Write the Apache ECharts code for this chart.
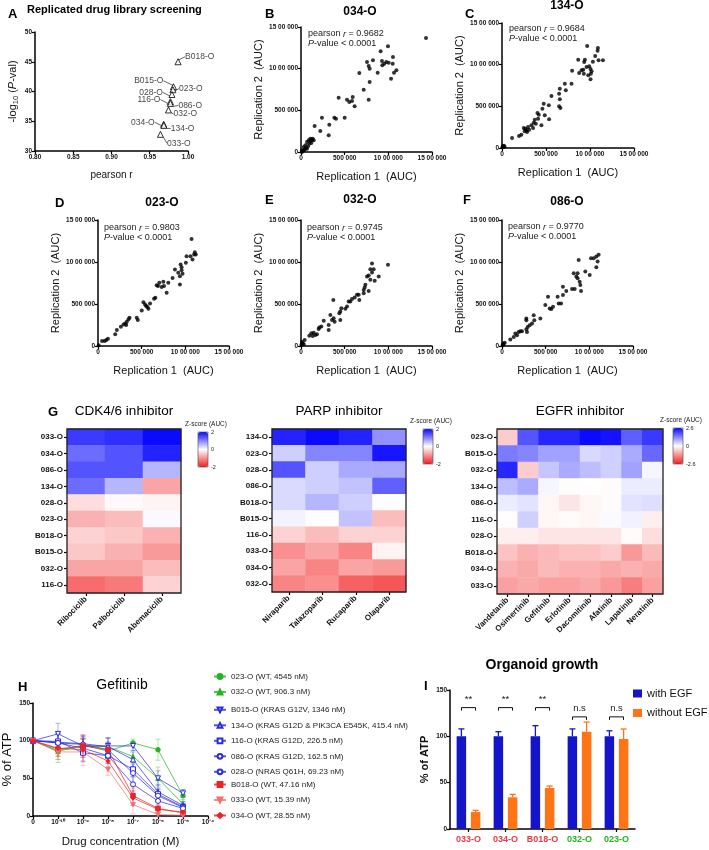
<!DOCTYPE html>
<html>
<head>
<meta charset="utf-8">
<title>Replicated drug library screening</title>
<script src="https://cdn.jsdelivr.net/npm/echarts@6/dist/echarts.min.js"></script>
<style>
html, body { margin: 0; padding: 0; background: #fff; }
#main { width: 709px; height: 850px; }
</style>
</head>
<body>
<div id="main"></div>
<script>
// ---------- data ----------
// A: replicate correlation of each organoid screen
const aNames = ['B018-O', 'B015-O', '023-O', '028-O', '116-O', '086-O', '032-O', '034-O', '134-O', '033-O'];
const aPearson = [0.987, 0.981, 0.9803, 0.979, 0.977, 0.9770, 0.9745, 0.9682, 0.9684, 0.964];
const aLogP = [45.0, 40.8, 40.3, 39.5, 38.3, 38.0, 36.9, 34.5, 34.3, 32.8];

// B-F: AUC of replicate 1 vs replicate 2 (in thousands)
const aucTicks = ['0', '500 000', '10 00 000', '15 00 000'];
const scatterNames = ['034-O', '134-O', '023-O', '032-O', '086-O'];
const scatterR = ['0.9682', '0.9684', '0.9803', '0.9745', '0.9770'];
const rep034 = [[1431,1368],[996,1268],[912,1208],[1053,1140],[1050,1060],[824,1100],[756,1080],[775,1032],[786,1000],[927,1092],[954,1060],[977,1080],[931,1040],[1004,1072],[1092,980],[1065,952],[1031,880],[878,952],[668,948],[786,840],[718,748],[775,628],[592,660],[527,628],[553,600],[584,612],[614,548],[431,652],[500,412],[401,400],[382,412],[240,412],[324,328],[317,200],[221,252],[156,312],[107,160],[126,148],[88,140],[69,120],[95,100],[50,80],[31,60],[57,48],[11,20],[23,12],[42,32],[80,68],[118,108],[145,140],[69,40],[11,0],[34,20],[111,132],[134,160]];
const rep134 = [[11,24],[23,28],[30,12],[4,8],[114,120],[194,144],[220,160],[247,240],[266,232],[277,212],[296,252],[285,192],[308,220],[258,200],[334,272],[361,304],[372,340],[353,240],[384,292],[410,352],[418,400],[403,420],[448,272],[486,392],[474,532],[459,472],[532,512],[535,344],[562,624],[649,500],[657,584],[649,652],[657,712],[664,480],[725,692],[714,772],[790,772],[797,928],[866,1060],[877,900],[904,932],[923,940],[930,892],[934,1032],[942,1060],[961,972],[968,1224],[991,980],[1006,948],[1018,920],[1010,892],[1006,824],[1033,1036],[1059,1104],[1086,1168],[1090,1200],[1097,1052],[1147,1052],[980,872]];
const rep023 = [[8,8],[46,59],[76,59],[95,71],[114,87],[197,139],[216,190],[262,230],[292,257],[311,269],[330,289],[349,317],[361,336],[323,249],[444,336],[456,309],[501,424],[520,522],[539,495],[551,475],[577,443],[566,463],[596,507],[642,562],[657,574],[672,724],[702,752],[729,701],[748,764],[756,713],[687,713],[786,633],[805,752],[854,811],[881,910],[919,871],[938,831],[946,970],[957,938],[957,902],[938,732],[968,859],[1006,990],[1014,1069],[1059,1069],[1071,1275],[1082,1029],[1109,1116],[1101,1089],[1120,1089]];
const rep032 = [[4,12],[19,32],[11,52],[31,20],[42,72],[95,123],[118,151],[145,159],[164,131],[183,139],[134,119],[202,203],[210,219],[233,231],[260,302],[317,191],[317,251],[336,370],[355,310],[374,330],[385,290],[370,549],[450,310],[439,390],[462,450],[450,410],[508,442],[527,470],[546,529],[565,529],[584,561],[614,577],[641,609],[668,549],[660,609],[718,629],[718,668],[729,696],[737,728],[775,656],[756,827],[775,839],[794,788],[794,915],[813,983],[832,915],[844,776],[813,875],[890,827],[996,967]];
const rep086 = [[8,8],[19,28],[31,40],[11,20],[95,76],[134,108],[153,148],[172,128],[191,168],[210,176],[229,176],[286,168],[279,199],[294,227],[317,247],[344,267],[279,307],[279,327],[363,367],[370,307],[439,327],[496,487],[527,586],[546,447],[565,439],[584,467],[649,507],[676,507],[637,586],[698,606],[698,706],[736,654],[802,678],[832,678],[821,866],[866,866],[851,826],[866,806],[878,1025],[889,766],[897,726],[905,654],[954,886],[1004,846],[1019,1045],[1050,1045],[1080,1065],[1095,1005],[1080,937],[1107,1085]];
const scatterPts = [rep034, rep134, rep023, rep032, rep086];

// G: z-scores of AUC
const cdkDrugs = ['Ribociclib', 'Palbociclib', 'Abemaciclib'];
const cdkRows = ['033-O', '034-O', '086-O', '134-O', '028-O', '023-O', 'B018-O', 'B015-O', '032-O', '116-O'];
const cdkZ = [
  [1.6, 1.7, 2.0], [1.2, 1.4, 1.8], [1.4, 1.4, 0.6], [1.2, 0.6, -0.8], [-0.3, -0.05, -0.1],
  [-0.7, -0.6, 0.05], [-0.4, -0.5, -0.7], [-0.5, -0.7, -0.9], [-0.8, -0.8, -0.6], [-1.3, -1.2, -0.4]
];
const parpDrugs = ['Niraparib', 'Talazoparib', 'Rucaparib', 'Olaparib'];
const parpRows = ['134-O', '023-O', '028-O', '086-O', 'B018-O', 'B015-O', '116-O', '033-O', '034-O', '032-O'];
const parpZ = [
  [1.8, 2.0, 1.8, 0.9], [0.4, 1.0, 1.0, 1.9], [1.4, 0.4, 0.7, 0.7], [0.3, 0.4, 0.5, 1.3], [0.3, 0.6, 0.4, 0.02],
  [0.1, 0.02, 0.5, -0.6], [-0.4, -0.6, -0.4, -0.4], [-1.0, -0.8, -1.1, -0.1], [-0.8, -1.1, -0.8, -0.9], [-1.1, -1.0, -1.4, -1.5]
];
const egfrDrugs = ['Vandetanib', 'Osimertinib', 'Gefitinib', 'Erlotinib', 'Dacomitinib', 'Afatinib', 'Lapatinib', 'Neratinib'];
const egfrRows = ['023-O', 'B015-O', '032-O', '134-O', '086-O', '116-O', '028-O', 'B018-O', '034-O', '033-O'];
const egfrZ = [
  [-0.6, 1.8, 2.3, 2.3, 2.6, 2.5, 1.7, 2.1],
  [1.4, 1.3, 1.0, 1.0, 0.4, 0.5, 0.9, 1.6],
  [2.3, -0.6, 0.6, 0.9, 0.7, 0.5, 1.0, 0.1],
  [0.7, 0.9, 0.1, -0.03, 0.0, -0.05, 0.2, 0.2],
  [0.2, 0.3, -0.1, -0.3, -0.1, -0.05, 0.3, 0.35],
  [-0.02, 0.5, -0.1, -0.05, -0.1, 0.05, 0.15, -0.2],
  [-0.2, -0.2, -0.3, -0.3, -0.3, -0.3, -0.05, -0.4],
  [-0.7, -0.9, -0.8, -0.7, -0.7, -0.6, -1.2, -0.8],
  [-0.9, -1.0, -0.8, -0.9, -0.9, -1.0, -0.9, -1.0],
  [-1.1, -1.0, -1.1, -1.1, -1.0, -1.2, -1.5, -1.1]
];
const zTicks2 = ['2', '0', '-2'];
const zTicks26 = ['2.6', '0', '-2.6'];

// H: gefitinib dose response (% of ATP), mean and SD
const hConc = ['0', '10⁻¹⁰', '10⁻⁹', '10⁻⁸', '10⁻⁷', '10⁻⁶', '10⁻⁵', '10⁻⁴'];
const hNames = ['023-O (WT, 4545 nM)', '032-O (WT, 906.3 nM)', 'B015-O (KRAS G12V, 1346 nM)',
  '134-O (KRAS G12D & PIK3CA E545K, 415.4 nM)', '116-O (KRAS G12D, 226.5 nM)', '086-O (KRAS G12D, 162.5 nM)',
  '028-O (NRAS Q61H, 69.23 nM)', 'B018-O (WT, 47.16 nM)', '033-O (WT, 15.39 nM)', '034-O (WT, 28.55 nM)'];
const hMean = [
  [100, 87, 94, 86, 97, 88, 27],
  [100, 86, 93, 92, 79, 50, 16],
  [100, 109, 93, 93, 93, 50, 30],
  [100, 98, 96, 92, 75, 32, 14],
  [100, 99, 84, 80, 62, 29, 12],
  [100, 97, 95, 88, 57, 27, 11],
  [100, 97, 90, 80, 42, 20, 10],
  [100, 89, 93, 88, 27, 10, 4],
  [100, 85, 85, 62, 15, 2, 1],
  [100, 90, 88, 73, 24, 9, 5]
];
const hSd = [
  [0, 12, 8, 10, 5, 14, 8],
  [0, 15, 10, 12, 8, 15, 6],
  [0, 14, 12, 10, 6, 10, 5],
  [0, 12, 10, 12, 10, 10, 5],
  [0, 10, 12, 10, 10, 8, 5],
  [0, 12, 12, 10, 12, 8, 5],
  [0, 12, 12, 10, 10, 8, 4],
  [0, 10, 15, 10, 10, 5, 3],
  [0, 10, 18, 8, 12, 3, 2],
  [0, 10, 15, 10, 10, 4, 3]
];

// I: organoid growth with / without EGF
const iOrganoids = ['033-O', '034-O', 'B018-O', '032-O', '023-O'];
const withEgf = [100, 100, 100, 100, 100];
const withEgfSd = [8, 5, 11.5, 8, 6];
const withoutEgf = [18.3, 34.2, 44.2, 105, 97.1];
const withoutEgfSd = [1.8, 3.2, 2.2, 10.4, 10.8];
const sigLabels = ['**', '**', '**', 'n.s', 'n.s'];
const sigLevel = [131, 131, 131, 121, 121];

// ---------- helpers ----------
const FONT = '"Liberation Sans", Arial, Helvetica, sans-serif';
const grid = [], xAxis = [], yAxis = [], series = [], visualMap = [], graphic = [], legend = [];

function text(x, y, str, style) {
  graphic.push({
    type: 'text', x: x, y: y, z: 10, silent: true,
    style: Object.assign({ text: str, fill: '#000', fontFamily: FONT, fontSize: 10, align: 'left', verticalAlign: 'middle' }, style)
  });
}

function valAxis(gi, min, max, interval, fmt, extra) {
  return Object.assign({
    gridIndex: gi, type: 'value', min: min, max: max, interval: interval,
    splitLine: { show: false },
    axisLine: { show: true, onZero: false, lineStyle: { color: '#000', width: 1.5 } },
    axisTick: { show: true, length: 3, lineStyle: { color: '#000', width: 1.2 } },
    axisLabel: { fontFamily: FONT, fontSize: 6.5, fontWeight: 'bold', color: '#111', margin: 3, formatter: fmt }
  }, extra || {});
}

function axisName(size, weight) {
  return { fontFamily: FONT, fontSize: size, fontWeight: weight || 'normal', color: '#111' };
}

// ---------- A ----------
const aOffsets = [[7, -5, 'left'], [-10, -6, 'right'], [6, -1, 'left'], [-9, -2, 'right'], [-10, -2, 'right'],
  [8, 2, 'left'], [5, 4, 'left'], [-9, -2, 'right'], [7, 3, 'left'], [6.5, 9, 'left']];
text(8, 14, 'A', { fontSize: 13, fontWeight: 'bold' });
text(27, 10, 'Replicated drug library screening', { fontSize: 11, fontWeight: 'bold' });
let gi = grid.length;
grid.push({ left: 35, top: 32, width: 153, height: 119 });
xAxis.push(valAxis(gi, 0.8, 1.0, 0.05, v => v.toFixed(2), {
  name: 'pearson r', nameLocation: 'middle', nameGap: 19, nameTextStyle: axisName(10)
}));
yAxis.push(valAxis(gi, 30, 50, 5, v => v, {
  name: '-log{s|10} ({i|P}-val)', nameLocation: 'middle', nameGap: 15,
  nameTextStyle: Object.assign(axisName(11), {
    rich: { s: { fontFamily: FONT, fontSize: 7.5, color: '#111', padding: [6, 0, 0, 0] }, i: { fontFamily: FONT, fontSize: 11, fontStyle: 'italic', color: '#111' } }
  })
}));
series.push({
  type: 'scatter', xAxisIndex: gi, yAxisIndex: gi,
  data: aNames.map((n, k) => ({ name: n, value: [aPearson[k], aLogP[k]] })),
  symbol: 'triangle', symbolSize: 6,
  itemStyle: { color: '#fff', borderColor: '#000', borderWidth: 1 },
  label: { show: true, formatter: '{b}', fontFamily: FONT, fontSize: 8.5, color: '#111' },
  labelLayout: function (p) {
    const o = aOffsets[p.dataIndex];
    return { x: p.rect.x + p.rect.width / 2 + o[0], y: p.rect.y + p.rect.height / 2 + o[1], align: o[2], verticalAlign: 'middle' };
  },
  labelLine: { show: true, lineStyle: { color: '#222', width: 0.7 } }
});

// ---------- B-F ----------
const scatterBox = [
  { g: [301, 27, 131, 125], t: [360, 12], l: ['B', 265, 14], n: [308, 34] },
  { g: [502, 23, 132, 125], t: [567, 6], l: ['C', 465, 14], n: [509, 29] },
  { g: [98, 220, 131, 126], t: [162, 203], l: ['D', 55, 203], n: [104, 228] },
  { g: [301, 220, 131, 126], t: [360, 200], l: ['E', 265, 200], n: [307, 228] },
  { g: [502, 220, 131, 126], t: [567, 202], l: ['F', 463, 200], n: [508, 227] }
];
scatterNames.forEach(function (nm, i) {
  const b = scatterBox[i];
  const g = grid.length;
  grid.push({ left: b.g[0], top: b.g[1], width: b.g[2], height: b.g[3] });
  xAxis.push(valAxis(g, 0, 1500, 500, v => aucTicks[Math.round(v / 500)], {
    name: 'Replication 1  (AUC)', nameLocation: 'middle', nameGap: 19, nameTextStyle: axisName(11)
  }));
  yAxis.push(valAxis(g, 0, 1500, 500, v => aucTicks[Math.round(v / 500)], {
    name: 'Replication 2  (AUC)', nameLocation: 'middle', nameGap: 37, nameTextStyle: axisName(11)
  }));
  series.push({
    type: 'scatter', xAxisIndex: g, yAxisIndex: g, data: scatterPts[i],
    symbolSize: 4, itemStyle: { color: '#000' }
  });
  text(b.l[1], b.l[2], b.l[0], { fontSize: 13, fontWeight: 'bold' });
  text(b.t[0], b.t[1], nm, { fontSize: 12, fontWeight: 'bold', align: 'center' });
  const rich = {
    n: { fontFamily: FONT, fontSize: 9, fill: '#222' },
    i: { fontFamily: FONT, fontSize: 9, fontStyle: 'italic', fill: '#222' }
  };
  text(b.n[0], b.n[1], '{n|pearson }{i|r}{n| = ' + scatterR[i] + '}', { rich: rich });
  text(b.n[0], b.n[1] + 9.5, '{i|P}{n|-value < 0.0001}', { rich: rich });
});

// ---------- G ----------
text(48, 412, 'G', { fontSize: 13, fontWeight: 'bold' });
const hmBox = [
  { g: [67, 429, 114, 164], t: [124, 411], vm: [198, 432, 10, 35], title: 'CDK4/6 inhibitor', lim: 2, ticks: zTicks2 },
  { g: [272, 429, 134, 163], t: [339, 411], vm: [423, 429, 10, 35], title: 'PARP inhibitor', lim: 2, ticks: zTicks2 },
  { g: [497, 429, 166, 165], t: [580, 411], vm: [673, 428, 10, 36], title: 'EGFR inhibitor', lim: 2.6, ticks: zTicks26 }
];
const hmSets = [[cdkDrugs, cdkRows, cdkZ], [parpDrugs, parpRows, parpZ], [egfrDrugs, egfrRows, egfrZ]];
hmSets.forEach(function (set, i) {
  const b = hmBox[i];
  const g = grid.length;
  grid.push({ left: b.g[0], top: b.g[1], width: b.g[2], height: b.g[3] });
  xAxis.push({
    gridIndex: g, type: 'category', data: set[0], position: 'bottom',
    axisLine: { show: false }, axisTick: { show: true, alignWithLabel: true, length: 3, lineStyle: { color: '#000', width: 1.2 } },
    axisLabel: { rotate: 45, fontFamily: FONT, fontSize: 8, fontWeight: 'bold', color: '#111', margin: 5, interval: 0 },
    splitLine: { show: false }
  });
  yAxis.push({
    gridIndex: g, type: 'category', data: set[1], inverse: true,
    axisLine: { show: false }, axisTick: { show: true, alignWithLabel: true, length: 3, lineStyle: { color: '#000', width: 1.2 } },
    axisLabel: { fontFamily: FONT, fontSize: 8, fontWeight: 'bold', color: '#111', margin: 4, interval: 0 },
    splitLine: { show: false }
  });
  const data = [];
  set[2].forEach((row, r) => row.forEach((z, c) => data.push([c, r, z])));
  const si = series.length;
  series.push({ type: 'heatmap', xAxisIndex: g, yAxisIndex: g, data: data, itemStyle: { borderWidth: 0 }, emphasis: { disabled: true } });
  visualMap.push({
    type: 'continuous', seriesIndex: si, min: -b.lim, max: b.lim, calculable: false, orient: 'vertical',
    left: b.vm[0], top: b.vm[1], itemWidth: b.vm[2], itemHeight: b.vm[3], padding: 0, text: null,
    inRange: { color: ['#f21f1f', '#ffffff', '#0a0aff'] }
  });
  graphic.push({ type: 'rect', z: 10, silent: true, shape: { x: b.g[0], y: b.g[1], width: b.g[2], height: b.g[3] }, style: { fill: 'none', stroke: '#222', lineWidth: 1.3 } });
  graphic.push({ type: 'rect', z: 10, silent: true, shape: { x: b.vm[0], y: b.vm[1], width: b.vm[2], height: b.vm[3] }, style: { fill: 'none', stroke: '#444', lineWidth: 0.6 } });
  text(b.t[0], b.t[1], b.title, { fontSize: 13.5, align: 'center' });
  text(b.vm[0] + 8, b.vm[1] - 8, 'Z-score (AUC)', { fontSize: 6.5, align: 'center', fill: '#222' });
  b.ticks.forEach((t, k) => text(b.vm[0] + b.vm[2] + 3, b.vm[1] + k * b.vm[3] / 2, t, { fontSize: 5.5, fill: '#222' }));
});

// ---------- H ----------
text(18, 687, 'H', { fontSize: 13, fontWeight: 'bold' });
text(122, 685, 'Gefitinib', { fontSize: 14, align: 'center' });
const hColor = ['#22b522', '#22b522', '#2a2ae0', '#2a2ae0', '#2a2ae0', '#2a2ae0', '#2a2ae0', '#ee2222', '#f27070', '#ee2222'];
const downTri = 'path://M0,0 L10,0 L5,9 Z';
const hSymbol = ['circle', 'triangle', downTri, 'triangle', 'rect', 'circle', 'circle', 'rect', downTri, 'diamond'];
const hOpen = [false, false, true, true, true, true, true, false, false, false];
gi = grid.length;
grid.push({ left: 33, top: 703, width: 175, height: 113 });
xAxis.push(valAxis(gi, 0, 7, 1, v => hConc[v], {
  name: 'Drug concentration (M)', nameLocation: 'middle', nameGap: 20, nameTextStyle: axisName(11.5)
}));
yAxis.push(valAxis(gi, 0, 150, 50, v => v, {
  name: '% of ATP', nameLocation: 'middle', nameGap: 19, nameTextStyle: axisName(13)
}));
hNames.forEach(function (nm, k) {
  series.push({
    type: 'custom', xAxisIndex: gi, yAxisIndex: gi, silent: true, z: 1,
    data: hMean[k].map((v, x) => [x, v, hSd[k][x]]),
    renderItem: function (params, api) {
      const hi = api.coord([api.value(0), api.value(1) + api.value(2)]);
      const lo = api.coord([api.value(0), api.value(1) - api.value(2)]);
      const st = { stroke: hColor[k], lineWidth: 0.8, opacity: 0.45 };
      return {
        type: 'group', children: [
          { type: 'line', shape: { x1: hi[0], y1: hi[1], x2: lo[0], y2: lo[1] }, style: st },
          { type: 'line', shape: { x1: hi[0] - 2.5, y1: hi[1], x2: hi[0] + 2.5, y2: hi[1] }, style: st },
          { type: 'line', shape: { x1: lo[0] - 2.5, y1: lo[1], x2: lo[0] + 2.5, y2: lo[1] }, style: st }
        ]
      };
    }
  });
  series.push({
    type: 'line', name: nm, xAxisIndex: gi, yAxisIndex: gi,
    data: hMean[k].map((v, x) => [x, v]),
    symbol: hSymbol[k], symbolSize: hOpen[k] ? 5 : 4.5, showAllSymbol: true,
    lineStyle: { color: hColor[k], width: 0.9, opacity: 0.8 },
    itemStyle: { color: hOpen[k] ? '#fff' : hColor[k], borderColor: hColor[k], borderWidth: 1 },
    emphasis: { disabled: true }
  });
});
const legendGroups = [[0, 1, 672.5], [2, 3, 4, 5, 6, 705.8], [7, 8, 9, 780.5]];
legendGroups.forEach(function (grp) {
  const top = grp[grp.length - 1];
  legend.push({
    data: grp.slice(0, -1).map(k => hNames[k]), orient: 'vertical', left: 213, top: top,
    itemWidth: 12, itemHeight: 6, itemGap: 7.5, padding: 0, selectedMode: false,
    textStyle: { fontFamily: FONT, fontSize: 8, color: '#222', padding: [0, 0, 0, 0] }
  });
});

// ---------- I ----------
text(424, 686, 'I', { fontSize: 13, fontWeight: 'bold' });
text(542, 665, 'Organoid growth', { fontSize: 14, fontWeight: 'bold', align: 'center' });
const catColor = ['#ee3a46', '#ee3a46', '#ee3a46', '#1fb51f', '#1fb51f'];
const blue = '#1414c8', orange = '#ff7414';
gi = grid.length;
grid.push({ left: 450, top: 690, width: 185, height: 139 });
xAxis.push({
  gridIndex: gi, type: 'category', data: iOrganoids,
  axisLine: { show: true, lineStyle: { color: '#000', width: 1.5 } },
  axisTick: { show: true, alignWithLabel: true, length: 3, lineStyle: { color: '#000', width: 1.2 } },
  axisLabel: { interval: 0, fontFamily: FONT, fontSize: 9, fontWeight: 'bold', margin: 6, color: (v, i) => catColor[i] }
});
yAxis.push(valAxis(gi, 0, 150, 50, v => v, {
  name: '% of ATP', nameLocation: 'middle', nameGap: 20, nameTextStyle: axisName(11, 'bold')
}));
series.push({ type: 'bar', name: 'with EGF', xAxisIndex: gi, yAxisIndex: gi, data: withEgf, barWidth: 9.5, barGap: '50%', itemStyle: { color: blue } });
series.push({ type: 'bar', name: 'without EGF', xAxisIndex: gi, yAxisIndex: gi, data: withoutEgf, barWidth: 9.5, barGap: '50%', itemStyle: { color: orange } });
[[withEgf, withEgfSd, blue, -7.1], [withoutEgf, withoutEgfSd, orange, 7.1]].forEach(function (e) {
  series.push({
    type: 'custom', xAxisIndex: gi, yAxisIndex: gi, silent: true, z: 3,
    data: e[0].map((v, i) => [i, v, e[1][i]]),
    renderItem: function (params, api) {
      const b = api.coord([api.value(0), api.value(1)]);
      const t = api.coord([api.value(0), api.value(1) + api.value(2)]);
      const x = b[0] + e[3];
      const st = { stroke: e[2], lineWidth: 1.3 };
      return {
        type: 'group', children: [
          { type: 'line', shape: { x1: x, y1: b[1], x2: x, y2: t[1] }, style: st },
          { type: 'line', shape: { x1: x - 3, y1: t[1], x2: x + 3, y2: t[1] }, style: st }
        ]
      };
    }
  });
});
series.push({
  type: 'custom', xAxisIndex: gi, yAxisIndex: gi, silent: true, z: 3,
  data: sigLevel.map((v, i) => [i, v]),
  renderItem: function (params, api) {
    const p = api.coord([api.value(0), api.value(1)]);
    const x1 = p[0] - 7, x2 = p[0] + 7, y = p[1];
    return {
      type: 'group', children: [
        { type: 'polyline', shape: { points: [[x1, y + 3], [x1, y], [x2, y], [x2, y + 3]] }, style: { stroke: '#111', fill: null, lineWidth: 1 } },
        { type: 'text', style: { text: sigLabels[params.dataIndex], x: p[0], y: y - 3, align: 'center', verticalAlign: 'bottom', fontFamily: FONT, fontSize: 9.5, fill: '#222' } }
      ]
    };
  }
});
legend.push({
  data: ['with EGF', 'without EGF'], orient: 'vertical', left: 633, top: 688, padding: 0,
  icon: 'rect', itemWidth: 9, itemHeight: 8, itemGap: 8.5, selectedMode: false,
  textStyle: { fontFamily: FONT, fontSize: 11, color: '#111' }
});

// ---------- chart ----------
const chart = echarts.init(document.getElementById('main'));
chart.setOption({
  backgroundColor: '#fff',
  animation: false,
  textStyle: { fontFamily: FONT },
  grid: grid, xAxis: xAxis, yAxis: yAxis,
  visualMap: visualMap, legend: legend,
  series: series, graphic: graphic
});
</script>
</body>
</html>
